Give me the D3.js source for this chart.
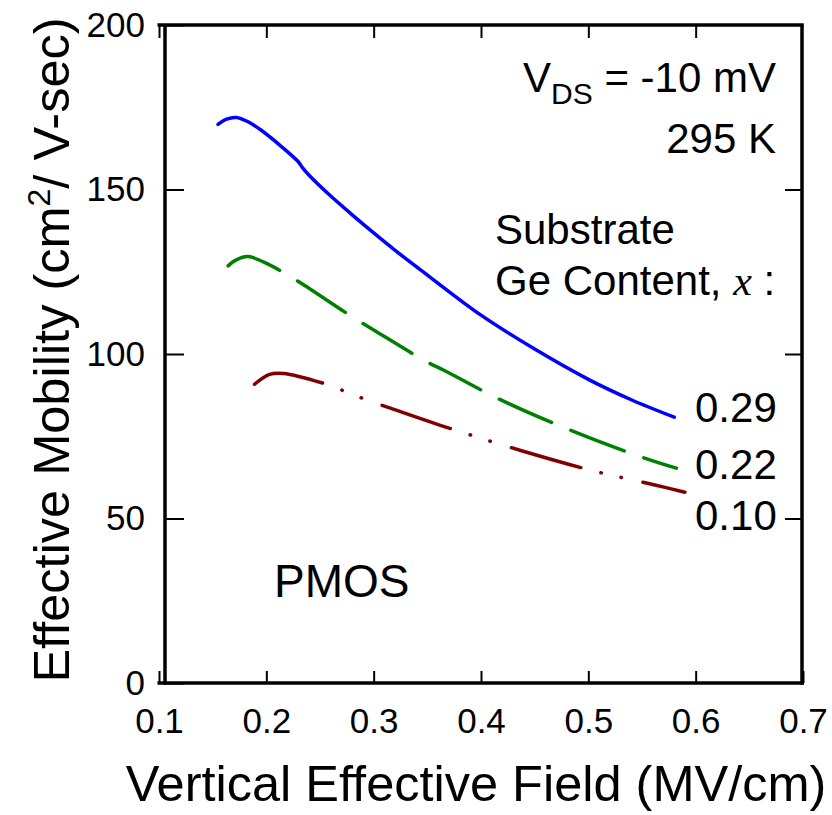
<!DOCTYPE html>
<html>
<head>
<meta charset="utf-8">
<script src="https://cdn.jsdelivr.net/npm/d3@7"></script>
<style>
  html, body { margin: 0; padding: 0; background: #fff; }
  svg { display: block; }
  text { font-family: "Liberation Sans", Arial, sans-serif; fill: #000; }
</style>
</head>
<body>
<svg id="chart" width="832" height="815"></svg>
<script>
// Effective hole mobility vs. vertical effective field for three substrate Ge contents
const xTicks = [0.1, 0.2, 0.3, 0.4, 0.5, 0.6, 0.7];
const yTicks = [0, 50, 100, 150, 200];

const field029 = [0.155, 0.163, 0.172, 0.183, 0.194, 0.2125, 0.2296, 0.2342, 0.2405, 0.26, 0.28, 0.30, 0.32, 0.35, 0.40, 0.45, 0.50, 0.54, 0.58];
const mob029   = [169.8, 171.4, 171.9, 170.6, 168.3, 163.5, 158.5, 156.4, 154.1, 148.0, 142.3, 136.8, 131.5, 124.0, 111.8, 101.5, 92.3, 86.1, 80.8];

const field022 = [0.1644, 0.172, 0.183, 0.203, 0.2156, 0.231, 0.2824, 0.3, 0.349, 0.3663, 0.4175, 0.4843, 0.551, 0.582];
const mob022   = [126.8, 128.6, 129.6, 127.1, 124.8, 121.8, 110.8, 107.3, 97.7, 94.9, 86.2, 76.7, 68.5, 65.3];

const field010 = [0.189, 0.203, 0.2157, 0.256, 0.275, 0.2955, 0.3134, 0.371, 0.4378, 0.5045, 0.562, 0.59];
const mob010   = [90.8, 93.8, 94.1, 90.8, 88.4, 85.8, 83.8, 77.4, 70.6, 64.5, 60.2, 58.0];

const seriesLabels = ["0.29", "0.22", "0.10"];

const svg = d3.select("#chart");
const x = d3.scaleLinear().domain([0.1, 0.7]).range([159, 803]);
const y = d3.scaleLinear().domain([0, 200]).range([683, 25]);
const leftEdge = x(0.1) + 6;   // vertical frame line sits slightly inside the first tick
const rightEdge = x(0.7) - 1;

// ---- frame ----
const frame = svg.append("g").attr("stroke", "#000").attr("stroke-width", 3.5).attr("fill", "none");
frame.append("line").attr("x1", x(0.1) - 1.5).attr("x2", rightEdge + 1.75).attr("y1", y(0)).attr("y2", y(0));
frame.append("line").attr("x1", x(0.1) - 1.5).attr("x2", rightEdge + 1.75).attr("y1", y(200)).attr("y2", y(200));
frame.append("line").attr("x1", leftEdge).attr("x2", leftEdge).attr("y1", y(200)).attr("y2", y(0) + 1.75);
frame.append("line").attr("x1", rightEdge).attr("x2", rightEdge).attr("y1", y(200)).attr("y2", y(0) + 1.75);

function styleAxis(g) {
  g.select(".domain").remove();
  g.selectAll(".tick line").attr("stroke", "#000").attr("stroke-width", 2);
  g.selectAll(".tick text")
    .attr("fill", "#000")
    .style("font-family", "'Liberation Sans', Arial, sans-serif")
    .style("font-size", "35px");
}

// bottom axis with labels
svg.append("g")
  .attr("transform", `translate(0,${y(0)})`)
  .call(d3.axisBottom(x).tickValues(xTicks).tickSize(-12).tickPadding(25).tickFormat(d3.format(".1f")))
  .call(styleAxis);

// top axis, ticks only
svg.append("g")
  .attr("transform", `translate(0,${y(200)})`)
  .call(d3.axisTop(x).tickValues(xTicks.slice(0, -1)).tickSize(-13).tickFormat(""))
  .call(styleAxis);

// left axis with labels
svg.append("g")
  .attr("transform", `translate(${leftEdge},0)`)
  .call(d3.axisLeft(y).tickValues(yTicks).tickSize(-19).tickPadding(20).tickFormat(d3.format("d")))
  .call(styleAxis);

// right axis, ticks only
svg.append("g")
  .attr("transform", `translate(${rightEdge},0)`)
  .call(d3.axisRight(y).tickValues(yTicks.slice(1, -1)).tickSize(-17).tickFormat(""))
  .call(styleAxis);

// ---- curves ----
const line = d3.line()
  .x(d => x(d[0]))
  .y(d => y(d[1]))
  .curve(d3.curveCatmullRom.alpha(0.5));

const series = [
  { f: field029, m: mob029, color: "#0000ff", dash: null },
  { f: field022, m: mob022, color: "#008000", dash: "57,21" },
  { f: field010, m: mob010, color: "#800000", dash: "72,21,0.5,20,0.5,22" }
];

series.forEach(s => {
  svg.append("path")
    .datum(d3.zip(s.f, s.m))
    .attr("d", line)
    .attr("fill", "none")
    .attr("stroke", s.color)
    .attr("stroke-width", 3.5)
    .attr("stroke-linecap", "round")
    .attr("stroke-linejoin", "round")
    .attr("stroke-dasharray", s.dash);
});

// ---- series labels ----
const labelY = [421.5, 479, 530];
seriesLabels.forEach((t, i) => {
  svg.append("text")
    .attr("x", 695)
    .attr("y", labelY[i])
    .style("font-size", "42px")
    .text(t);
});

// ---- annotations ----
const vds = svg.append("text")
  .attr("x", 776)
  .attr("y", 92)
  .attr("text-anchor", "end")
  .style("font-size", "42px");
vds.append("tspan").text("V");
vds.append("tspan").attr("dy", 12).style("font-size", "30px").text("DS");
vds.append("tspan").attr("dy", -12).text(" = -10 mV");

svg.append("text")
  .attr("x", 776)
  .attr("y", 153)
  .attr("text-anchor", "end")
  .style("font-size", "42px")
  .text("295 K");

svg.append("text")
  .attr("x", 495)
  .attr("y", 244)
  .style("font-size", "42px")
  .text("Substrate");

const ge = svg.append("text")
  .attr("x", 495)
  .attr("y", 295)
  .style("font-size", "42px");
ge.append("tspan").text("Ge Content, ");
ge.append("tspan")
  .style("font-family", "'Liberation Serif', 'Times New Roman', serif")
  .style("font-style", "italic")
  .text("x");
ge.append("tspan").text(" :");

svg.append("text")
  .attr("x", 274)
  .attr("y", 597)
  .style("font-size", "46px")
  .text("PMOS");

// ---- axis titles ----
svg.append("text")
  .attr("x", 476)
  .attr("y", 801)
  .attr("text-anchor", "middle")
  .style("font-size", "50.5px")
  .text("Vertical Effective Field (MV/cm)");

const yt = svg.append("text")
  .attr("transform", "translate(69,350) rotate(-90)")
  .attr("text-anchor", "middle")
  .style("font-size", "50.5px");
yt.append("tspan").text("Effective Mobility (cm");
yt.append("tspan").attr("dy", -19).style("font-size", "32px").text("2");
yt.append("tspan").attr("dy", 19).text("/ V-sec)");
</script>
</body>
</html>
